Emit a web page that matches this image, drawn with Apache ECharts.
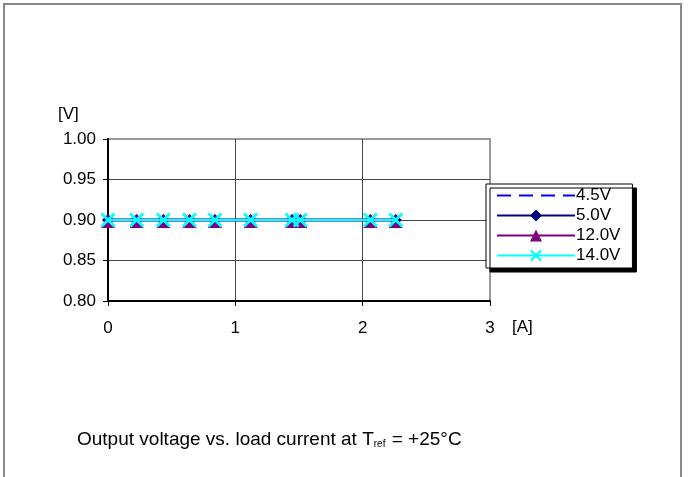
<!DOCTYPE html>
<html><head><meta charset="utf-8">
<script src="https://cdn.jsdelivr.net/npm/echarts@6/dist/echarts.min.js"></script>
<style>html,body{margin:0;padding:0;background:#fff}#c{width:688px;height:477px}</style>
</head><body><div id="c"></div>
<script>
var seriesNames = ['4.5V', '5.0V', '12.0V', '14.0V'];
var current = [0, 0.225, 0.435, 0.64, 0.84, 1.12, 1.445, 1.51, 2.06, 2.26];
var v45 = [0.90, 0.90, 0.90, 0.90, 0.90, 0.90, 0.90, 0.90, 0.90, 0.90];
var v50 = [0.90, 0.90, 0.90, 0.90, 0.90, 0.90, 0.90, 0.90, 0.90, 0.90];
var v120 = [0.90, 0.90, 0.90, 0.90, 0.90, 0.90, 0.90, 0.90, 0.90, 0.90];
var v140 = [0.90, 0.90, 0.90, 0.90, 0.90, 0.90, 0.90, 0.90, 0.90, 0.90];
var xTicks = ['0', '1', '2', '3'];
var yTicks = ['0.80', '0.85', '0.90', '0.95', '1.00'];

function pairs(xs, ys) { return xs.map(function (x, i) { return [x, ys[i]]; }); }
var FONT = 'Arial, "Liberation Sans", Helvetica, sans-serif';
var xMark = 'path://M0,1.3L1.3,0L5,3.7L8.7,0L10,1.3L6.3,5L10,8.7L8.7,10L5,6.3L1.3,10L0,8.7L3.7,5Z';

var chart = echarts.init(document.getElementById('c'));
chart.setOption({
  animation: false,
  backgroundColor: '#fff',
  textStyle: { fontFamily: FONT },
  grid: { left: 108, top: 139, width: 382, height: 162, show: true, borderColor: '#999', borderWidth: 2, backgroundColor: 'transparent' },
  xAxis: {
    type: 'value', min: 0, max: 3, interval: 1,
    axisLine: { show: true, onZero: false, lineStyle: { color: '#000', width: 2 } },
    axisTick: { show: true, inside: false, length: 5, lineStyle: { color: '#000' } },
    axisLabel: { color: '#000', fontSize: 17, fontFamily: FONT, margin: 19,
      formatter: function (v) { return xTicks[Math.round(v)]; } },
    splitLine: { show: true, lineStyle: { color: ['#444', '#444', '#444', '#999'], width: 1 } }
  },
  yAxis: {
    type: 'value', min: 0.80, max: 1.00, interval: 0.05,
    axisLine: { show: true, lineStyle: { color: '#000', width: 2 } },
    axisTick: { show: true, inside: false, length: 5, lineStyle: { color: '#000' } },
    axisLabel: { color: '#000', fontSize: 17, fontFamily: FONT, margin: 12,
      formatter: function (v) { return yTicks[Math.round((v - 0.80) / 0.05)]; } },
    splitLine: { show: true, lineStyle: { color: ['#444', '#444', '#444', '#444', '#999'], width: 1 } }
  },
  legend: {
    orient: 'vertical', left: 486, top: 184,
    padding: [3, 12, 4, 10], itemGap: 3,
    itemWidth: 78, itemHeight: 15,
    backgroundColor: '#fff', borderColor: '#000', borderWidth: 1,
    shadowColor: '#000', shadowOffsetX: 4, shadowOffsetY: 4, shadowBlur: 0,
    textStyle: { color: '#000', fontSize: 17, fontFamily: FONT, padding: [0, 0, 0, -4] },
    data: [{ name: seriesNames[0], itemStyle: { opacity: 0 } }, seriesNames[1], seriesNames[2], seriesNames[3]]
  },
  graphic: [
    { type: 'polyline', silent: true, shape: { points: [[4, 477], [4, 4], [681, 4], [681, 477]] },
      style: { stroke: '#888', lineWidth: 2, fill: null } },
    { type: 'text', left: 58, top: 106, style: { text: '[V]', font: '17px ' + FONT, fill: '#000' } },
    { type: 'text', left: 512, top: 319, style: { text: '[A]', font: '17px ' + FONT, fill: '#000' } },
    { type: 'text', left: 77, top: 430, style: {
        text: 'Output voltage vs. load current at T{s|ref} = +25°C',
        font: '19px ' + FONT, fill: '#000',
        rich: { s: { fontSize: 10, fontFamily: FONT, verticalAlign: 'bottom', padding: [9, 1, 0, 0] } } } }
  ],
  series: [
    { name: seriesNames[0], type: 'line', data: pairs(current, v45), symbol: 'none', z: 2,
      lineStyle: { color: '#0000ff', width: 2, type: [14, 8] }, itemStyle: { color: '#0000ff' } },
    { name: seriesNames[1], type: 'line', data: pairs(current, v50), symbol: 'diamond', symbolSize: 12, z: 3,
      lineStyle: { color: '#000080', width: 3 }, itemStyle: { color: '#000080' } },
    { name: seriesNames[2], type: 'line', data: pairs(current, v120), symbol: 'triangle', symbolSize: 14, symbolOffset: [0, 1], z: 4,
      lineStyle: { color: '#800080', width: 2 }, itemStyle: { color: '#800080' } },
    { name: seriesNames[3], type: 'line', data: pairs(current, v140), symbol: xMark, symbolSize: 15, z: 5,
      lineStyle: { color: '#00ffff', width: 2 }, itemStyle: { color: '#00ffff' } }
  ]
});
</script></body></html>
